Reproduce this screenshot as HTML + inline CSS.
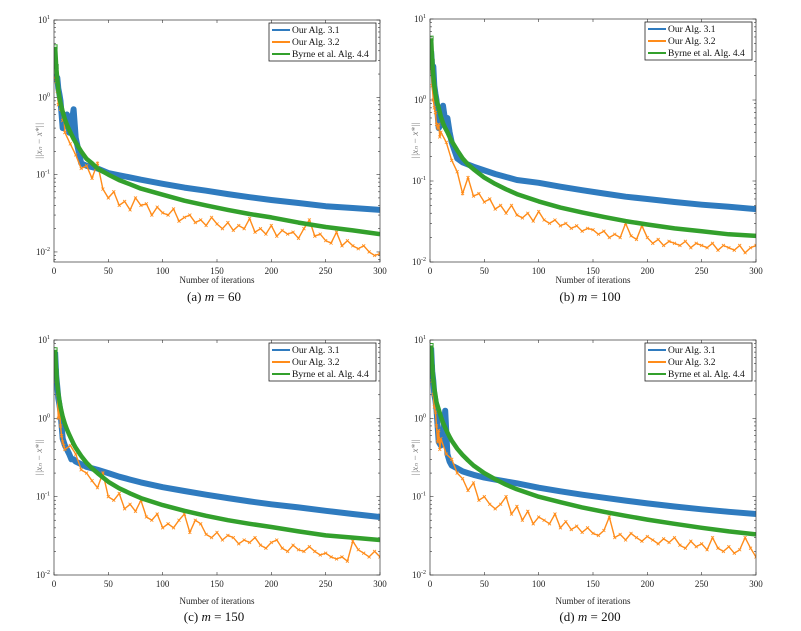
<!DOCTYPE html>
<html><head><meta charset="utf-8"><style>
body{margin:0;background:#fff;}
svg{display:block;font-family:"Liberation Serif",serif;}
</style></head><body>
<svg id="fig" width="801" height="631" viewBox="0 0 801 631"></svg>
<script>
// ---- data ----
const gridIters = [1,2,3,4,5,6,8,10,12,14,16,18,20,25,30,35,40,50,60,70,80,100,120,140,160,180,200,225,250,275,300];
const orangeIters = [1,2,3,4,5,6,7,8,9,10,15,20,25,30,35,40,45,50,55,60,65,70,75,80,85,90,95,100,105,110,115,120,125,130,135,140,145,150,155,160,165,170,175,180,185,190,195,200,205,210,215,220,225,230,235,240,245,250,255,260,265,270,275,280,285,290,295,300];
const xTicks = [0,50,100,150,200,250,300];
const yTickExps = [1,0,-1,-2];
const panelCaptions = ["(a)  m = 60","(b)  m = 100","(c)  m = 150","(d)  m = 200"];
const legendLabels = ["Our Alg. 3.1","Our Alg. 3.2","Byrne et al. Alg. 4.4"];

const greenA = [4.5,2.5,1.7,1.25,1.0,0.85,0.65,0.52,0.44,0.38,0.33,0.29,0.26,0.2,0.16,0.14,0.12,0.1,0.085,0.075,0.066,0.055,0.046,0.04,0.035,0.031,0.028,0.024,0.021,0.019,0.017];
const blueA = [2.0,1.7,1.8,1.3,1.1,0.9,0.4,0.55,0.6,0.35,0.45,0.7,0.3,0.14,0.13,0.125,0.12,0.105,0.098,0.092,0.086,0.076,0.068,0.062,0.056,0.051,0.047,0.043,0.039,0.037,0.035];
const orangeA = [1.8,1.6,1.2,0.8,0.9,0.7,0.75,0.5,0.6,0.35,0.25,0.18,0.12,0.13,0.09,0.14,0.065,0.05,0.06,0.04,0.045,0.035,0.05,0.04,0.042,0.03,0.038,0.032,0.03,0.036,0.025,0.028,0.03,0.024,0.026,0.022,0.028,0.023,0.02,0.024,0.019,0.022,0.02,0.027,0.018,0.02,0.017,0.022,0.016,0.019,0.017,0.018,0.015,0.02,0.026,0.016,0.017,0.014,0.013,0.018,0.012,0.014,0.012,0.011,0.012,0.01,0.009,0.0095];

const greenB = [5.8,3,2,1.5,1.2,1.0,0.8,0.62,0.52,0.45,0.4,0.35,0.31,0.24,0.19,0.16,0.14,0.11,0.092,0.079,0.069,0.056,0.047,0.041,0.036,0.032,0.029,0.026,0.024,0.022,0.021];
const blueB = [4,2.5,2.6,1.5,1.2,1.0,0.45,0.5,0.85,0.55,0.6,0.4,0.3,0.19,0.17,0.16,0.15,0.135,0.122,0.112,0.103,0.095,0.085,0.077,0.07,0.064,0.06,0.055,0.051,0.048,0.045];
const orangeB = [2.5,1.5,1.0,0.8,0.7,0.5,0.45,0.5,0.35,0.4,0.3,0.18,0.13,0.07,0.11,0.065,0.07,0.055,0.06,0.045,0.05,0.04,0.05,0.038,0.035,0.04,0.032,0.042,0.033,0.03,0.033,0.028,0.03,0.026,0.028,0.024,0.026,0.025,0.022,0.024,0.02,0.022,0.02,0.03,0.021,0.019,0.028,0.02,0.017,0.019,0.016,0.018,0.017,0.016,0.018,0.015,0.017,0.016,0.015,0.017,0.014,0.016,0.015,0.014,0.016,0.013,0.015,0.016];

const greenC = [7.5,4,2.7,2.1,1.7,1.4,1.05,0.85,0.72,0.62,0.54,0.47,0.42,0.33,0.27,0.23,0.2,0.155,0.128,0.11,0.096,0.078,0.066,0.057,0.05,0.045,0.041,0.036,0.032,0.03,0.028];
const blueC = [7,3.5,2.5,1.8,1.5,1.2,0.55,0.45,0.4,0.35,0.3,0.3,0.28,0.26,0.24,0.23,0.22,0.2,0.18,0.165,0.152,0.132,0.118,0.106,0.096,0.087,0.08,0.073,0.066,0.06,0.055];
const orangeC = [7,3,2,1.0,1.5,0.8,0.6,0.5,0.45,0.4,0.45,0.35,0.22,0.2,0.16,0.13,0.2,0.1,0.09,0.11,0.07,0.08,0.065,0.09,0.055,0.05,0.06,0.04,0.045,0.04,0.05,0.06,0.035,0.05,0.045,0.033,0.03,0.035,0.028,0.032,0.03,0.025,0.028,0.026,0.03,0.024,0.022,0.026,0.028,0.022,0.02,0.024,0.021,0.02,0.023,0.02,0.018,0.019,0.017,0.016,0.017,0.015,0.027,0.021,0.019,0.017,0.02,0.017];

const greenD = [8.5,4.5,3.1,2.4,2.0,1.6,1.3,1.05,0.88,0.76,0.66,0.58,0.52,0.41,0.34,0.29,0.25,0.2,0.167,0.142,0.124,0.1,0.085,0.073,0.064,0.057,0.051,0.045,0.04,0.036,0.033];
const blueD = [8,4,3,2,1.7,1.3,0.5,0.45,0.6,1.25,0.35,0.28,0.25,0.23,0.21,0.2,0.19,0.175,0.165,0.156,0.148,0.13,0.117,0.106,0.097,0.089,0.082,0.075,0.069,0.064,0.06];
const orangeD = [8,3,2,1.4,1.2,0.8,0.5,0.7,0.4,0.55,0.35,0.3,0.2,0.17,0.12,0.15,0.09,0.1,0.08,0.07,0.08,0.1,0.06,0.075,0.05,0.065,0.045,0.055,0.05,0.045,0.06,0.04,0.048,0.038,0.042,0.035,0.04,0.034,0.032,0.037,0.055,0.03,0.033,0.028,0.034,0.03,0.027,0.031,0.028,0.025,0.029,0.026,0.03,0.024,0.022,0.027,0.023,0.025,0.021,0.03,0.022,0.02,0.023,0.019,0.021,0.03,0.022,0.017];

const blueSeries = [blueA,blueB,blueC,blueD];
const orangeSeries = [orangeA,orangeB,orangeC,orangeD];
const greenSeries = [greenA,greenB,greenC,greenD];

// ---- layout ----
const panels = [
  {l:54,r:380,top:20,yTop:1,bot:262,yBot:-2.13,xl:283,cap:297,name:"a"},
  {l:430,r:756,top:19,yTop:1,bot:262,yBot:-2,xl:283,cap:297,name:"b"},
  {l:54,r:380,top:340,yTop:1,bot:575,yBot:-2,xl:604,cap:617,name:"c"},
  {l:430,r:756,top:340,yTop:1,bot:575,yBot:-2,xl:604,cap:617,name:"d"}
];
const NS="http://www.w3.org/2000/svg";
const fig=document.getElementById('fig');
function mk(tag,attrs,parent){const e=document.createElementNS(NS,tag);for(const k in attrs)e.setAttribute(k,attrs[k]);(parent||fig).appendChild(e);return e;}
const BLUE="#2f7bbf",ORANGE="#ff8c1a",GREEN="#33a02c";

panels.forEach((p,i)=>{
  const g=mk('g',{});
  
  
  const xs=v=>p.l+(v/300)*(p.r-p.l);
  const ys=v=>p.top+(p.yTop-Math.log10(v))/(p.yTop-p.yBot)*(p.bot-p.top);
  const clip=mk('clipPath',{id:'clip'+i},g);
  mk('rect',{x:p.l,y:p.top,width:p.r-p.l,height:p.bot-p.top},clip);
  // ticks
  xTicks.forEach(t=>{
    const x=xs(t);
    mk('line',{x1:x,x2:x,y1:p.bot,y2:p.bot-3,stroke:'#333','stroke-width':0.6},g);
    mk('line',{x1:x,x2:x,y1:p.top,y2:p.top+3,stroke:'#333','stroke-width':0.6},g);
    const tx=mk('text',{x:x,y:p.bot+12,'font-size':9,'text-anchor':'middle',fill:'#222'},g);
    tx.textContent=t;
    
    
  });
  for(let e=-3;e<=1;e++){for(let m=1;m<10;m++){
    const v=m*Math.pow(10,e);const lv=Math.log10(v);
    if(lv>p.yTop+1e-9||lv<p.yBot)continue;
    const y=ys(v);const len=m===1?3.5:2;
    mk('line',{x1:p.l,x2:p.l+len,y1:y,y2:y,stroke:'#333','stroke-width':0.6},g);
    mk('line',{x1:p.r,x2:p.r-len,y1:y,y2:y,stroke:'#333','stroke-width':0.6},g);
  }}
  yTickExps.forEach(e=>{
    const y=ys(Math.pow(10,e));
    const tx=mk('text',{x:p.l-4,y:y+3,'font-size':9,'text-anchor':'end',fill:'#222'},g);
    
    
    tx.appendChild(document.createTextNode('10'));
    const sp=mk('tspan',{dy:-4,'font-size':6},tx);sp.textContent=e;
  });
  // series
  const sg=mk('g',{'clip-path':'url(#clip'+i+')'},g);
  const ptsOf=(it,arr)=>arr.map((v,k)=>xs(it[k]).toFixed(1)+','+ys(v).toFixed(1)).join(' ');
  const bl=mk('polyline',{points:ptsOf(gridIters,blueSeries[i]),fill:'none',stroke:BLUE,'stroke-width':6,'stroke-linejoin':'round'},sg);
  
  
  const ol=mk('polyline',{points:ptsOf(orangeIters,orangeSeries[i]),fill:'none',stroke:ORANGE,'stroke-width':1.4},sg);
  
  
  orangeIters.forEach((it,k)=>{
    const x=xs(it),y=ys(orangeSeries[i][k]);
    mk('path',{d:`M${x-1.5},${y-1.5}L${x+1.5},${y+1.5}M${x-1.5},${y+1.5}L${x+1.5},${y-1.5}`,stroke:ORANGE,'stroke-width':0.8},sg);
  });
  const gl=mk('polyline',{points:ptsOf(gridIters,greenSeries[i]),fill:'none',stroke:GREEN,'stroke-width':4.5,'stroke-linejoin':'round'},sg);
  
  
  [0,1].forEach(k=>{mk('rect',{x:xs(gridIters[k])-2,y:ys(greenSeries[i][k])-2,width:4,height:4,fill:'none',stroke:GREEN,'stroke-width':1},sg);});
  // frame
  const fr=mk('rect',{x:p.l,y:p.top,width:p.r-p.l,height:p.bot-p.top,fill:'none',stroke:'#333','stroke-width':0.7},g);
  
  
  // legend
  const lx=p.r-111,ly=p.top+3;
  const lg=mk('g',{},g);
  
  
  mk('rect',{x:lx,y:ly,width:107,height:38,fill:'#fff',stroke:'#222','stroke-width':0.8},lg);
  const cols=[BLUE,ORANGE,GREEN];
  legendLabels.forEach((lab,k)=>{
    const y=ly+7+k*12;
    mk('line',{x1:lx+3,x2:lx+21,y1:y,y2:y,stroke:cols[k],'stroke-width':2},lg);
    const t=mk('text',{x:lx+23,y:y+3,'font-size':9.5,fill:'#111'},lg);
    t.textContent=lab;
    
    
  });
  // axis labels
  const xl=mk('text',{x:(p.l+p.r)/2,y:p.xl,'font-size':9,'text-anchor':'middle',fill:'#222'},g);
  xl.textContent='Number of iterations';
  
  
  const cy=(p.top+p.bot)/2;
  const yl=mk('text',{x:p.l-12,y:cy,'font-size':9,'text-anchor':'middle',fill:'#777','font-style':'italic',transform:`rotate(-90 ${p.l-12} ${cy})`},g);
  yl.textContent='||x\u2099 \u2212 x*||';
  
  
  const cap=mk('text',{x:(p.l+p.r)/2-3,y:p.cap+4,'font-size':13,'text-anchor':'middle',fill:'#111'},g);
  
  
  const parts=panelCaptions[i].split('m');
  cap.appendChild(document.createTextNode(parts[0]));
  const it=mk('tspan',{'font-style':'italic'},cap);it.textContent='m';
  cap.appendChild(document.createTextNode(parts[1]));
});
</script>
</body></html>
